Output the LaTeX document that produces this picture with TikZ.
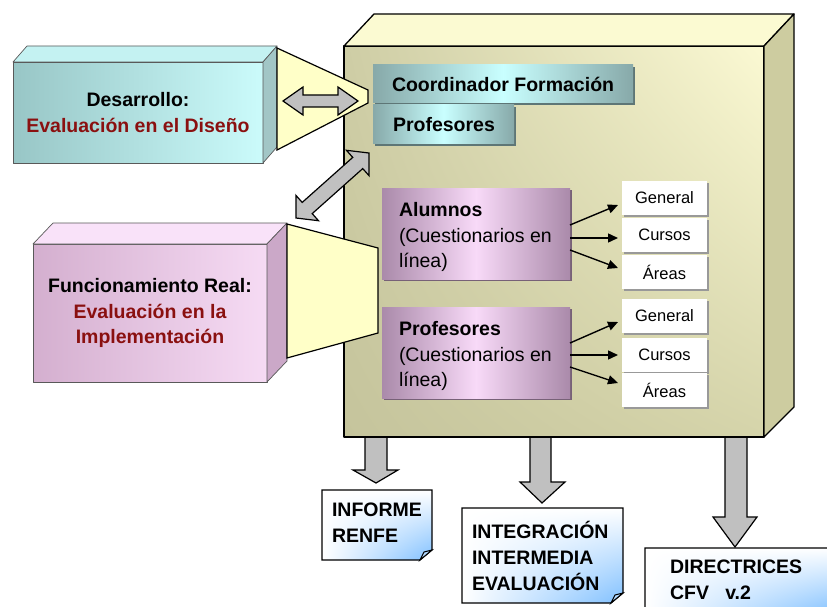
\documentclass[tikz,border=0pt]{standalone}
\usepackage{fontspec}
\setmainfont{Liberation Sans}
\usetikzlibrary{arrows.meta,shadows,shadings}

\definecolor{wine}{HTML}{8A1010}
\definecolor{tealdk}{HTML}{87A9A9}
\definecolor{teallt}{HTML}{C9FFFF}
\definecolor{lilacdk}{HTML}{AA8AAA}
\definecolor{lilaclt}{HTML}{F8DAF8}
\definecolor{desdk}{HTML}{98C6C6}
\definecolor{deslt}{HTML}{CBFBFB}
\definecolor{destop}{HTML}{C4F2F2}
\definecolor{desside}{HTML}{A2C6C6}
\definecolor{fundk}{HTML}{D4AFCF}
\definecolor{funlt}{HTML}{F6DBF4}
\definecolor{funtop}{HTML}{F9E2F9}
\definecolor{funside}{HTML}{CBA8C8}
\definecolor{beamyellow}{HTML}{FFFFC8}
\definecolor{blockgray}{HTML}{C0C0C0}
\definecolor{docblue}{HTML}{80C0FF}
\definecolor{mainul}{HTML}{CECDA5}
\definecolor{mainur}{HTML}{FBF9D3}
\definecolor{mainll}{HTML}{C5C49C}
\definecolor{mainlr}{HTML}{D5D4AA}
\definecolor{maintop}{HTML}{FBFAD2}
\definecolor{mainside}{HTML}{CDCCA0}

\begin{document}
\begin{tikzpicture}[x=1pt,y=-1pt,
  txt/.style={font=\fontsize{19.5}{25.5}\selectfont, inner sep=0pt, outer sep=0pt},
  edge3d/.style={draw=black, line width=1.3pt, line join=round},
  softedge/.style={draw=black!65, line width=0.7pt, line join=round},
  tealbar/.style={left color=tealdk, right color=tealdk, middle color=teallt, inner sep=0pt, outer sep=0pt,
    general shadow={fill=tealdk!70!black, shadow xshift=2pt, shadow yshift=-2pt}},
  lilacbar/.style={left color=lilacdk, right color=lilacdk, middle color=lilaclt, minimum width=188, minimum height=91,
    inner sep=0pt, outer sep=0pt, general shadow={fill=lilacdk!70!black, shadow xshift=2pt, shadow yshift=-2pt}},
  sub/.style={fill=white, minimum width=85, minimum height=34, inner sep=0pt, outer sep=0pt,
    font=\fontsize{16.5}{20}\selectfont, general shadow={fill=gray!80, shadow xshift=2pt, shadow yshift=-2pt}},
  link/.style={-{Triangle[length=10pt,width=9pt]}, line width=1.4pt},
  block/.style={fill=blockgray, draw=black, line width=1.2pt, line join=miter},
  beam/.style={fill=beamyellow, draw=black, line width=1.2pt, line join=miter},
  doc/.style={draw=black, line width=1.2pt, upper left=white, upper right=white, lower left=white, lower right=docblue}
]
\useasboundingbox (0,0) rectangle (827,607);
\clip (0,0) rectangle (827,607);
\fill[white] (0,0) rectangle (827,607);

% arrows out of the box
\filldraw[block] (365,430) -- (365,470) -- (353,470) -- (376,483) -- (398,470) -- (387,470) -- (387,430) -- cycle;
\filldraw[block] (530,430) -- (530,482) -- (520,482) -- (542,503) -- (565,482) -- (551,482) -- (551,430) -- cycle;
\filldraw[block] (725,430) -- (725,517) -- (713,517) -- (735,547) -- (757,517) -- (747,517) -- (747,430) -- cycle;

% big box
\shade[upper left=mainul, upper right=mainur, lower left=mainll, lower right=mainlr] (344,46) rectangle (764,437);
\draw[edge3d] (344,46) rectangle (764,437);
\filldraw[edge3d, fill=maintop] (344,46) -- (374,14) -- (794,14) -- (764,46) -- cycle;
\filldraw[edge3d, fill=mainside] (764,46) -- (794,14) -- (794,407) -- (764,437) -- cycle;

% desarrollo
\node[txt, font=\fontsize{19.5}{25.5}\selectfont\bfseries, align=center, minimum width=250, minimum height=101,
  left color=desdk, right color=deslt, softedge] (des) at (138,112.5)
  {Desarrollo:\\\textcolor{wine}{Evaluación en el Diseño}};
\filldraw[softedge, fill=destop] (des.north west) -- ++(14,-16) -- ++(250,0) -- (des.north east) -- cycle;
\filldraw[softedge, fill=desside] (des.north east) -- ++(14,-16) -- ++(0,101) -- (des.south east) -- cycle;

% funcionamiento real
\node[txt, font=\fontsize{19.5}{25.5}\selectfont\bfseries, align=center, minimum width=234, minimum height=138,
  left color=fundk, right color=funlt, softedge] (fun) at (150,313)
  {Funcionamiento Real:\\\textcolor{wine}{Evaluación en la}\\\textcolor{wine}{Implementación}};
\filldraw[softedge, fill=funtop] (fun.north west) -- ++(20,-21) -- ++(234,0) -- (fun.north east) -- cycle;
\filldraw[softedge, fill=funside] (fun.north east) -- ++(20,-21) -- ++(0,138) -- (fun.south east) -- cycle;

% beams
\filldraw[beam] (277,48) -- (368,90) -- (368,103) -- (277,150) -- cycle;
\filldraw[beam] (287,224) -- (378,248) -- (378,333) -- (287,358) -- cycle;

% double arrows
\filldraw[block] (283,101) -- (303,87) -- (303,95) -- (338,95) -- (338,87) -- (358,101)
  -- (338,115) -- (338,107) -- (303,107) -- (303,115) -- cycle;
\begin{scope}[shift={(296,218)}, rotate=41.7]
\filldraw[block] (0,0) -- (15,17) -- (15,7.5) -- (82.7,7.5) -- (82.7,17) -- (97.7,0)
  -- (82.7,-17) -- (82.7,-7.5) -- (15,-7.5) -- (15,-17) -- cycle;
\end{scope}

% teal bars
\node[tealbar, minimum width=260, minimum height=38, anchor=north west] (coord) at (373,65) {};
\node[txt, font=\fontsize{19.5}{25.5}\selectfont\bfseries, anchor=west] (coordtxt) at ([xshift=19]coord.west) {Coordinador Formación};
\node[tealbar, minimum width=141, minimum height=39, anchor=north west] (prof) at (373,105) {};
\node[txt, font=\fontsize{19.5}{25.5}\selectfont\bfseries, anchor=west] (proftxt) at ([xshift=20]prof.west) {Profesores};

% questionnaires
\node[lilacbar, anchor=north west] (alu) at (382,188) {};
\node[txt, align=left, anchor=west] (alutxt) at ([xshift=17,yshift=-3.5]alu.west)
  {\textbf{Alumnos}\\(Cuestionarios en\\línea)};
\node[lilacbar, anchor=north west] (pro) at (382,307) {};
\node[txt, align=left, anchor=west] (protxt) at ([xshift=17,yshift=-3.5]pro.west)
  {\textbf{Profesores}\\(Cuestionarios en\\línea)};

\node[sub] (g1) at (664.5,197.5) {General};
\node[sub] (c1) at (664.5,235) {Cursos};
\node[sub] (a1) at (664.5,272) {Áreas};
\node[sub] (g2) at (664.5,315.5) {General};
\node[sub] (c2) at (664.5,354.5) {Cursos};
\node[sub] (a2) at (664.5,390) {Áreas};

\draw[link] ([yshift=8.5]alu.east) -- ([xshift=-4,yshift=-7.5]g1.west);
\draw[link] ([yshift=-4.5]alu.east) -- ([xshift=-4,yshift=-3]c1.west);
\draw[link] ([yshift=-16.5]alu.east) -- ([xshift=-4,yshift=4]a1.west);
\draw[link] ([yshift=9.5]pro.east) -- ([xshift=-4,yshift=-6.5]g2.west);
\draw[link] ([yshift=-2.5]pro.east) -- ([xshift=-4,yshift=-0.5]c2.west);
\draw[link] ([yshift=-14.5]pro.east) -- ([xshift=-4,yshift=7]a2.west);

% documents
\shadedraw[doc] (322,490) -- (432,490) -- (432,550) -- (420,560) -- (322,560) -- cycle;
\filldraw[draw=black, line width=1pt, fill=docblue!60] (420,560) -- (424,552) -- (432,550) -- cycle;
\node[txt, font=\fontsize{19.5}{26}\selectfont\bfseries, align=left, anchor=west] (inf) at (332,522.5) {INFORME\\RENFE};

\shadedraw[doc] (462,508) -- (623,508) -- (623,593) -- (611,603) -- (462,603) -- cycle;
\filldraw[draw=black, line width=1pt, fill=docblue!60] (611,603) -- (615,595) -- (623,593) -- cycle;
\node[txt, font=\fontsize{19.5}{26}\selectfont\bfseries, align=left, anchor=west] (integ) at (472,556) {INTEGRACIÓN\\INTERMEDIA\\EVALUACIÓN};

\shadedraw[doc] (645,548) -- (835,548) -- (835,605) -- (823,615) -- (645,615) -- cycle;
\node[txt, font=\fontsize{19.5}{26}\selectfont\bfseries, align=left, anchor=west] (direc) at (670,580) {DIRECTRICES\\CFV\ \ \ v.2};
\end{tikzpicture}
\end{document}
